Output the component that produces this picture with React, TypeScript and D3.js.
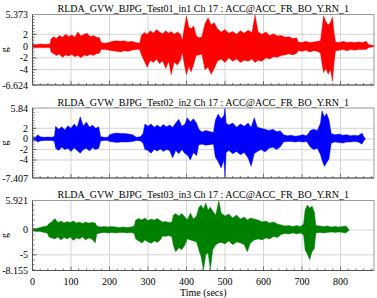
import React from "react";
import * as d3 from "d3";

// ---------- data (envelopes, g) ----------
const test01Time = [0,10,20,30,40,46,48,55,62,70,78,86,94,102,110,118,126,134,142,150,158,166,174,178,188,198,208,218,228,238,248,258,268,278,283,290,298,306,314,322,330,338,346,354,360,368,376,384,389,394,400,406,412,419,425,432,440,448,456,464,472,480,490,500,510,520,530,540,550,560,570,578,586,596,606,616,626,636,646,656,666,676,686,690,700,710,720,730,740,748,752,756,762,768,774,779,783,787,797,807,817,827,837,847,857,867,872,880,887];
const test01Max = [0.3,0.25,0.35,0.3,0.3,0.4,1.2,1.6,1.3,1.8,1.5,2.0,1.6,1.9,1.5,2.4,1.7,2.0,2.2,1.6,1.8,1.5,1.4,0.6,0.5,0.6,0.8,0.9,0.8,0.9,0.7,0.8,0.6,0.5,1.8,2.3,2.0,2.6,2.2,2.8,2.4,2.1,2.6,2.2,2.5,2.0,2.4,2.0,1.0,3.0,5.1,3.2,3.0,3.4,1.8,1.4,1.6,3.8,4.8,3.6,4.0,3.0,2.4,2.8,2.2,2.5,2.0,2.6,2.2,2.7,2.3,5.3,2.4,2.0,2.4,1.8,2.1,1.7,1.8,1.5,1.6,1.3,1.4,0.7,0.6,0.8,0.6,0.7,0.8,0.9,3.0,5.1,4.2,3.6,4.0,5.0,2.5,0.7,0.6,0.8,0.6,0.7,0.6,0.7,0.6,0.8,0.3,0.15,0.15];
const test01Min = [-0.25,-0.3,-0.25,-0.3,-0.25,-0.3,-1.0,-1.3,-1.6,-1.4,-1.9,-1.5,-1.7,-1.4,-1.8,-1.6,-2.0,-1.5,-1.7,-1.4,-1.6,-1.3,-1.2,-0.6,-0.6,-0.7,-0.8,-0.9,-1.0,-0.8,-0.9,-0.7,-0.6,-0.6,-1.5,-2.5,-3.6,-2.4,-2.8,-2.2,-3.0,-2.5,-3.8,-2.6,-4.9,-2.7,-3.2,-2.4,-1.0,-3.0,-4.9,-3.4,-4.4,-3.0,-1.6,-1.5,-1.4,-4.0,-3.6,-4.8,-3.8,-2.6,-2.2,-2.8,-2.0,-2.6,-2.2,-2.8,-2.4,-2.6,-2.2,-2.8,-2.4,-2.6,-2.0,-2.2,-1.8,-1.9,-1.6,-1.5,-1.3,-1.5,-1.2,-0.8,-0.9,-0.7,-1.0,-0.8,-0.9,-1.2,-3.0,-4.5,-3.8,-4.8,-4.0,-6.0,-3.0,-0.8,-0.7,-0.6,-0.8,-0.6,-0.7,-0.6,-0.6,-0.6,-0.3,-0.15,-0.15];

const test02Time = [0,8,14,20,30,40,50,57,60,68,76,84,92,100,108,116,124,132,140,148,156,164,172,177,186,196,200,210,220,230,240,250,260,270,280,287,292,300,308,316,324,332,340,348,356,364,372,380,388,396,402,410,418,426,432,440,450,460,470,475,482,490,497,500,503,510,520,530,540,550,560,568,576,584,594,604,614,624,634,644,652,662,672,682,692,702,712,722,730,740,748,752,758,764,770,776,786,796,806,816,826,836,846,856,860,864];
const test02Max = [0.2,0.3,0.8,0.4,0.3,0.35,0.3,0.5,2.4,1.8,2.3,1.7,2.5,2.0,2.8,2.2,4.2,2.4,3.2,2.2,2.6,2.0,2.3,0.4,0.3,0.3,0.8,1.0,1.1,1.0,1.0,0.9,0.8,0.3,0.4,1.0,2.8,2.4,2.8,2.2,2.6,2.2,2.7,2.3,2.6,2.2,3.0,3.7,2.4,2.8,4.0,3.2,3.8,3.0,1.8,1.3,1.6,1.4,1.2,3.5,4.7,3.8,4.4,5.84,3.0,2.6,3.0,2.2,2.8,2.4,3.0,2.2,4.0,2.2,2.0,1.8,1.6,1.8,1.4,1.5,0.8,0.6,0.7,0.5,0.6,0.8,0.6,1.6,1.8,1.6,3.0,5.3,4.2,4.8,3.6,1.0,0.8,0.9,0.7,0.8,0.6,0.7,0.6,1.1,0.5,0.1];
const test02Min = [-0.2,-0.3,-0.6,-0.4,-0.3,-0.3,-0.3,-0.5,-1.8,-2.2,-1.6,-2.0,-1.8,-2.4,-1.7,-2.2,-2.7,-2.0,-1.8,-2.3,-1.7,-2.0,-1.8,-0.4,-0.3,-0.3,-0.5,-0.6,-0.7,-0.6,-0.6,-0.6,-0.5,-0.3,-0.4,-0.8,-2.0,-2.2,-2.7,-2.0,-2.3,-1.9,-2.4,-2.0,-2.2,-3.6,-2.2,-2.8,-2.0,-2.8,-3.0,-4.0,-2.6,-3.2,-1.1,-1.0,-1.2,-1.1,-1.0,-3.5,-4.3,-5.5,-4.0,-7.2,-2.6,-2.2,-2.8,-2.4,-3.0,-2.6,-3.6,-5.2,-2.8,-2.4,-2.0,-2.5,-1.8,-1.6,-2.0,-1.5,-0.6,-0.5,-0.5,-0.6,-0.5,-0.6,-0.5,-1.6,-2.0,-1.8,-3.0,-4.0,-5.2,-4.5,-3.8,-0.8,-0.6,-0.7,-0.8,-0.6,-0.6,-0.5,-0.6,-1.0,-0.4,-0.1];

const test03Time = [0,10,20,30,38,43,50,58,66,74,82,90,98,106,114,122,130,138,146,154,163,167,176,186,196,206,216,226,236,246,256,264,268,276,284,292,300,308,316,324,332,338,346,354,362,366,372,380,388,396,402,410,418,426,432,438,444,450,456,462,468,476,484,490,500,510,520,530,540,550,558,566,576,586,596,606,616,626,636,646,656,666,676,686,696,704,708,714,720,726,732,736,746,756,766,776,786,796,806,814,818,822];
const test03Max = [0.3,0.3,0.5,0.7,0.8,1.3,1.6,2.3,1.5,1.8,1.4,1.7,1.5,1.8,1.4,1.6,1.3,1.6,1.4,1.5,1.4,0.8,0.6,0.7,0.6,0.7,0.6,0.5,0.6,0.5,0.6,0.8,2.0,2.3,2.0,2.4,1.9,2.2,2.0,2.3,1.9,1.6,1.7,1.5,1.6,3.0,3.3,2.8,3.3,2.6,2.0,3.4,2.2,2.8,4.5,5.0,4.2,5.4,4.0,4.6,3.8,3.0,5.9,3.4,2.8,3.2,2.4,3.0,2.2,2.6,2.0,2.4,2.2,2.0,1.6,1.8,1.4,1.6,1.2,1.0,0.8,0.9,0.7,0.9,0.7,1.2,4.0,5.0,4.4,4.8,3.6,0.9,0.8,0.7,0.8,0.6,0.7,0.6,0.7,0.8,0.4,0.1];
const test03Min = [-0.2,-0.3,-0.3,-0.5,-0.6,-1.4,-1.6,-1.8,-1.4,-2.0,-1.5,-1.8,-1.4,-2.1,-1.6,-1.8,-1.4,-2.0,-1.6,-1.8,-2.6,-0.8,-0.6,-0.5,-0.6,-0.5,-0.6,-0.5,-0.5,-0.6,-0.5,-0.7,-1.8,-2.2,-2.6,-2.0,-2.4,-2.7,-2.2,-2.5,-2.0,-1.2,-1.3,-1.1,-1.4,-3.2,-4.4,-3.6,-4.0,-3.0,-1.8,-2.0,-2.2,-2.4,-4.0,-5.4,-8.1,-5.0,-4.6,-8.0,-4.0,-3.0,-2.6,-2.5,-2.8,-2.2,-3.0,-2.4,-2.6,-3.0,-4.4,-2.6,-2.0,-1.8,-2.0,-1.6,-1.8,-1.3,-1.5,-0.9,-0.7,-0.8,-0.6,-0.8,-0.6,-1.0,-4.0,-4.9,-6.0,-4.4,-3.8,-0.6,-0.5,-0.6,-0.5,-0.4,-0.5,-0.4,-0.5,-0.6,-0.3,-0.1];

const titles = [
  "RLDA_GVW_BJPG_Test01_in1 Ch 17 : ACC@ACC_FR_BO_Y.RN_1",
  "RLDA_GVW_BJPG_Test02_in2 Ch 17 : ACC@ACC_FR_BO_Y.RN_1",
  "RLDA_GVW_BJPG_Test03_in3 Ch 17 : ACC@ACC_FR_BO_Y.RN_1",
];
const yDomains: [number, number][] = [[-6.624, 5.373], [-7.407, 5.84], [-8.155, 5.921]];
const yMajorTicks = [[-4, -2, 0, 2], [-4, -2, 0, 2], [-5, 0]];
const yMinorStep = [0.5, 0.5, 1];
const xTickValues = [0, 100, 200, 300, 400, 500, 600, 700, 800];
const xDomain: [number, number] = [0, 887];
const seriesColors = ["#ff0000", "#0000ff", "#008000"];
const xAxisTitle = "Time (secs)";
const yAxisTitle = "g";

const W = 377, H = 298;
const left = 32.5, right = 374;
const panels = [
  { top: 14.5, bottom: 85 },
  { top: 108, bottom: 178 },
  { top: 200.5, bottom: 270.5 },
];

const series = [
  { t: test01Time, hi: test01Max, lo: test01Min },
  { t: test02Time, hi: test02Max, lo: test02Min },
  { t: test03Time, hi: test03Max, lo: test03Min },
];

const FONT = "'Liberation Serif', 'Times New Roman', Times, serif";
const FS = 10;

export default function App() {
  const x = d3.scaleLinear().domain(xDomain).range([left, right]);
  const xMinor = d3.range(0, 887, 20);
  return (
    <svg width={W} height={H} style={{ position: "absolute", left: 0, top: 0, background: "#fff", fontFamily: FONT }}>
      {panels.map((p, i) => {
        const y = d3.scaleLinear().domain(yDomains[i]).range([p.bottom, p.top]);
        const s = series[i];
        const idx = d3.range(s.t.length);
        const area = d3.area<number>()
          .x((k) => x(s.t[k]))
          .y0((k) => y(Math.max(s.lo[k], yDomains[i][0])))
          .y1((k) => y(Math.min(s.hi[k], yDomains[i][1])));
        const [d0, d1] = yDomains[i];
        const minor = d3.range(Math.ceil(d0 / yMinorStep[i]) * yMinorStep[i], d1, yMinorStep[i]);
        const yLabels = [d1, ...yMajorTicks[i].slice().reverse(), d0];
        const mid = (p.top + p.bottom) / 2;
        return (
          <g key={i}>
            <text x={(left + right) / 2} y={p.top - 2.5} textAnchor="middle" fontSize={FS} fill="#000" style={{ fontFamily: FONT }}>{titles[i]}</text>
            {xTickValues.slice(1).map((v) => (
              <line key={"gx" + v} x1={x(v)} x2={x(v)} y1={p.top} y2={p.bottom} stroke="#d4d4d4" strokeWidth={1} />
            ))}
            {yMajorTicks[i].map((v) => (
              <line key={"gy" + v} x1={left} x2={right} y1={y(v)} y2={y(v)} stroke="#d4d4d4" strokeWidth={1} />
            ))}
            <path d={area(idx) || ""} fill={seriesColors[i]} stroke={seriesColors[i]} strokeWidth={0.6} strokeOpacity={0.7} />
            <rect x={left} y={p.top} width={right - left} height={p.bottom - p.top} fill="none" stroke="#9a9a9a" strokeWidth={1} />
            <line x1={left} x2={left} y1={p.top} y2={p.bottom} stroke="#555" strokeWidth={1} />
            <line x1={left} x2={right} y1={p.bottom} y2={p.bottom} stroke="#555" strokeWidth={1} />
            {minor.map((v) => (
              <line key={"my" + v} x1={left} x2={left + 2} y1={y(v)} y2={y(v)} stroke="#555" strokeWidth={0.8} />
            ))}
            {yMajorTicks[i].map((v) => (
              <line key={"My" + v} x1={left} x2={left + 4} y1={y(v)} y2={y(v)} stroke="#555" strokeWidth={0.8} />
            ))}
            {xMinor.map((v) => (
              <line key={"mx" + v} x1={x(v)} x2={x(v)} y1={p.bottom} y2={p.bottom - (v % 100 === 0 ? 4 : 2)} stroke="#555" strokeWidth={0.8} />
            ))}
            {yLabels.map((v, k) => (
              <text key={"ly" + k} x={28} y={y(v)} dy="0.35em" textAnchor="end" fontSize={FS} fill="#000" style={{ fontFamily: FONT }}>{String(v)}</text>
            ))}
            <text transform={`translate(8,${mid}) rotate(-90)`} textAnchor="middle" fontSize={FS} fill="#000" style={{ fontFamily: FONT }}>{yAxisTitle}</text>
          </g>
        );
      })}
      {xTickValues.map((v) => (
        <text key={"lx" + v} x={x(v)} y={284.5} textAnchor="middle" fontSize={FS} fill="#000" style={{ fontFamily: FONT }}>{v}</text>
      ))}
      <text x={(left + right) / 2} y={296} textAnchor="middle" fontSize={FS} fill="#000" style={{ fontFamily: FONT }}>{xAxisTitle}</text>
    </svg>
  );
}
